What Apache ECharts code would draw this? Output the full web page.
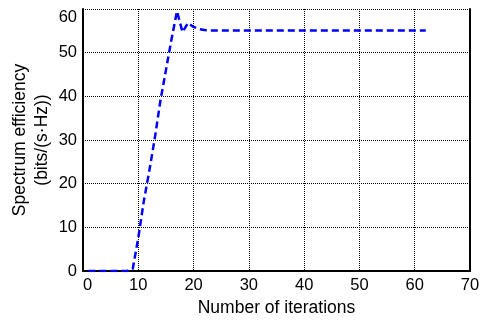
<!DOCTYPE html>
<html>
<head>
<meta charset="utf-8">
<script src="https://cdn.jsdelivr.net/npm/echarts@6/dist/echarts.min.js"></script>
<style>
  html, body { margin: 0; padding: 0; background: #fff; }
  #chart { width: 486px; height: 324px; }
</style>
</head>
<body>
<div id="chart"></div>
<script>
// iterations 1..62
var iterations = [];
for (var i = 1; i <= 62; i++) iterations.push(i);

// spectrum efficiency
var efficiency = [
  0, 0, 0, 0, 0, 0, 0, 0, 0.5, 7.6,
  16, 23, 30.5, 39, 46, 53, 59.5, 54.7, 56.8, 55.9,
  55.4, 55.2, 55.1, 55.1, 55.1, 55.1, 55.1, 55.1, 55.1, 55.1,
  55.1, 55.1, 55.1, 55.1, 55.1, 55.1, 55.1, 55.1, 55.1, 55.1,
  55.1, 55.1, 55.1, 55.1, 55.1, 55.1, 55.1, 55.1, 55.1, 55.1,
  55.1, 55.1, 55.1, 55.1, 55.1, 55.1, 55.1, 55.1, 55.1, 55.1,
  55.1, 55.1
];

var xTicks = [0, 10, 20, 30, 40, 50, 60, 70];
var yTicks = [0, 10, 20, 30, 40, 50, 60];

var font = 'Liberation Sans, Arial, sans-serif';
var gridDots = { color: '#000', width: 1, type: [1, 1] };

var points = iterations.map(function (x, k) { return [x, efficiency[k]]; });

var myChart = echarts.init(document.getElementById('chart'));
var option = {
  animation: false,
  backgroundColor: '#fff',
  textStyle: { fontFamily: font },
  grid: { left: 83, right: 16, top: 9, bottom: 53, containLabel: false, outerBoundsMode: 'none' },
  xAxis: {
    type: 'value',
    min: xTicks[0],
    max: xTicks[xTicks.length - 1],
    interval: 10,
    name: 'Number of iterations',
    nameLocation: 'middle',
    nameGap: 26,
    nameTextStyle: { color: '#000', fontSize: 17.5, fontFamily: font },
    axisLine: { lineStyle: { color: '#000', width: 2 } },
    axisTick: { show: false },
    axisLabel: { color: '#000', fontSize: 16.5, margin: 6, fontFamily: font, alignMinLabel: 'left' },
    splitLine: { show: true, lineStyle: gridDots }
  },
  yAxis: [
    {
      type: 'value',
      min: yTicks[0],
      max: yTicks[yTicks.length - 1],
      interval: 10,
      name: 'Spectrum efficiency\n(bits/(s·Hz))',
      nameLocation: 'middle',
      nameGap: 30,
      nameMoveOverlap: false,
      nameRotate: 90,
      nameTextStyle: { color: '#000', fontSize: 17.5, lineHeight: 22, fontFamily: font },
      axisLine: { show: true, lineStyle: { color: '#000', width: 2 } },
      axisTick: { show: false },
      axisLabel: { color: '#000', fontSize: 16.5, margin: 6, fontFamily: font, verticalAlignMaxLabel: 'top' },
      splitLine: { show: true, lineStyle: gridDots }
    },
    {
      type: 'value',
      position: 'right',
      min: yTicks[0],
      max: yTicks[yTicks.length - 1],
      interval: 10,
      axisLine: { show: true, lineStyle: { color: '#000', width: 2 } },
      axisTick: { show: false },
      axisLabel: { show: false },
      splitLine: { show: false }
    }
  ],
  series: [
    {
      type: 'line',
      data: points,
      symbol: 'none',
      lineStyle: { color: '#0000ff', width: 2.5, type: [7, 4] }
    }
  ]
};
myChart.setOption(option);
</script>
</body>
</html>
